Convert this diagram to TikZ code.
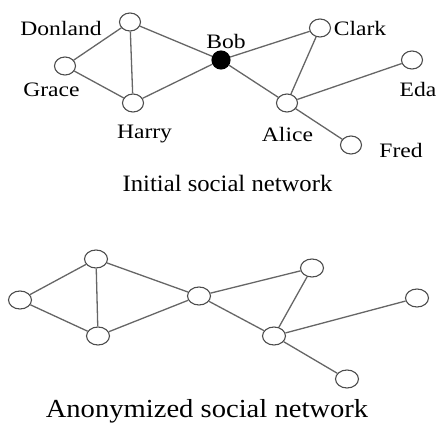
\documentclass[tikz,border=0pt]{standalone}
\usepackage{fontspec}
\setmainfont{Liberation Serif}
\usetikzlibrary{shapes.geometric}
\newcommand{\widetext}[1]{\scalebox{1.15}[1]{#1}}
\begin{document}
\begin{tikzpicture}[x=1pt,y=1pt,yscale=-1,xscale=1,
    vertex/.style={draw=black!70, line width=1.1pt, fill=white, ellipse, inner sep=0pt, minimum width=21pt, minimum height=18pt},
    hub/.style={vertex, fill=black, draw=black, minimum width=18pt},
    edge/.style={draw=black!60, line width=1.3pt},
    lbl/.style={anchor=base, inner sep=0.75pt, font=\fontsize{20.5}{24}\selectfont},
    titletext/.style={anchor=base, inner sep=0.75pt}]
    \useasboundingbox (0,0) rectangle (437,425); % set diagram size
    % Initial network - vertices
    \node[vertex] (don) at (130,22) {};
    \node[vertex] (gra) at (65,66) {};
    \node[vertex] (har) at (133,103) {};
    \node[hub] (bob) at (221,60) {};
    \node[vertex] (cla) at (320,28) {};
    \node[vertex] (eda) at (412,60) {};
    \node[vertex] (ali) at (287,103) {};
    \node[vertex] (fre) at (351,145) {};

    % Initial network - edges
    \draw[edge] (don) -- (gra) (don) -- (har) (don) -- (bob) (gra) -- (har) (har) -- (bob);
    \draw[edge] (bob) -- (cla) (bob) -- (ali) (cla) -- (ali) (ali) -- (eda) (ali) -- (fre);

    % Initial network - names
    \node[lbl] (tdon) at (61,36) {\widetext{Donland}};
    \node[lbl] (tgra) at (51.5,97) {\widetext{Grace}};
    \node[lbl] (thar) at (144.5,139) {\widetext{Harry}};
    \node[lbl] (tbob) at (226,49) {\widetext{Bob}};
    \node[lbl] (tcla) at (360,36) {\widetext{Clark}};
    \node[lbl] (teda) at (418,97) {\widetext{Eda}};
    \node[lbl] (tali) at (287.5,142) {\widetext{Alice}};
    \node[lbl] (tfre) at (401,158) {\widetext{Fred}};
    \node[titletext, font=\fontsize{23.5}{28}\selectfont] (cini) at (227.5,192) {\scalebox{1.05}[1]{Initial social network}}; % caption

    % Anonymized network - vertices
    \node[vertex, minimum width=23pt] (a1) at (96,259) {};
    \node[vertex, minimum width=23pt] (a2) at (20,300) {};
    \node[vertex, minimum width=23pt] (a3) at (98,336) {};
    \node[vertex, minimum width=23pt] (a4) at (199,296) {};
    \node[vertex, minimum width=23pt] (a5) at (312,268) {};
    \node[vertex, minimum width=23pt] (a6) at (417,298) {};
    \node[vertex, minimum width=23pt] (a7) at (274,336) {};
    \node[vertex, minimum width=23pt] (a8) at (347,379) {};

    % Anonymized network - edges
    \draw[edge] (a1) -- (a2) (a1) -- (a3) (a1) -- (a4) (a2) -- (a3) (a3) -- (a4);
    \draw[edge] (a4) -- (a5) (a4) -- (a7) (a5) -- (a7) (a7) -- (a6) (a7) -- (a8);
    \node[titletext, font=\fontsize{26}{30}\selectfont] (cano) at (207,417) {\scalebox{1.1}[1]{Anonymized social network}}; % caption
\end{tikzpicture}
\end{document}
